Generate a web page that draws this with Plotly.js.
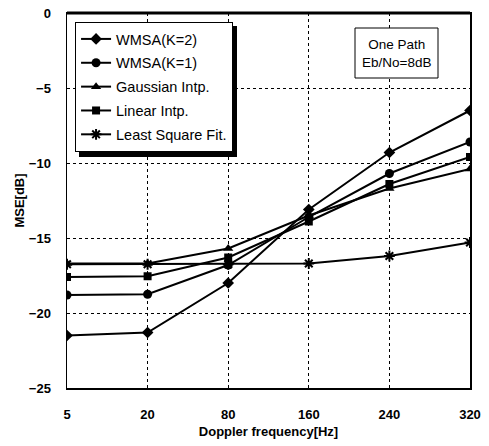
<!DOCTYPE html>
<html><head><meta charset="utf-8">
<script src="https://cdn.plot.ly/plotly-3.0.1.min.js"></script>
<style>html,body{margin:0;padding:0;background:#fff}#c{width:489px;height:446px}</style>
</head><body><div id="c"></div>
<script>
const categories = ['5','20','80','160','240','320'];
const wmsaK2 = [-21.5, -21.3, -18.0, -13.1, -9.3, -6.5];
const wmsaK1 = [-18.8, -18.75, -16.8, -13.6, -10.7, -8.6];
const gaussian = [-16.7, -16.7, -15.7, -13.5, -11.7, -10.4];
const linear = [-17.6, -17.55, -16.3, -13.9, -11.4, -9.6];
const lsf = [-16.75, -16.75, -16.75, -16.7, -16.2, -15.3];
const names = ['WMSA(K=2)', 'WMSA(K=1)', 'Gaussian Intp.', 'Linear Intp.', 'Least Square Fit.'];

const FONT = 'Liberation Sans, Arial, sans-serif';
function tr(y, name, sym, dash, sz){
  return {x: categories, y: y, name: name, type:'scatter', mode:'lines+markers',
    legendgroup: name,
    line:{color:'#000', width:2, dash:dash},
    marker:{symbol:sym, size:sz, color:'#000', line:{color:'#000', width: sym.indexOf('asterisk')>=0 ? 2 : 0}}};
}
const data = [
  tr(wmsaK2, names[0], 'diamond', 'solid', 9),
  tr(wmsaK1, names[1], 'circle', 'solid', 9),
  tr(gaussian, names[2], 'triangle-up', 'solid', 9),
  tr(linear, names[3], 'square', 'solid', 8),
  tr(lsf, names[4], 'asterisk-open', 'solid', 9)
];
// pixel helpers for paper coordinates (plot area 67..470 x, 13..388 y)
const px = v => (v - 67) / 403;
const py = v => (388 - v) / 375;
const layout = {
  width:489, height:446,
  margin:{l:67, r:19, t:13, b:58},
  paper_bgcolor:'#fff', plot_bgcolor:'#fff',
  font:{family:FONT, color:'#000', size:13},
  showlegend:true,
  legend:{x:0.02, y:0.976, xanchor:'left', yanchor:'top',
    bgcolor:'#fff', bordercolor:'#000', borderwidth:1,
    font:{family:FONT, size:14.5, color:'#000'}, tracegroupgap:2, itemwidth:30},
  xaxis:{type:'category', categoryorder:'array', categoryarray:categories, range:[0,5],
    showgrid:true, gridcolor:'#000', griddash:'dot', gridwidth:1,
    showline:true, linecolor:'#000', linewidth:1.5, mirror:true,
    ticks:'', ticklabelstandoff:14,
    tickfont:{family:FONT, size:13, weight:'bold'},
    title:{text:'Doppler frequency[Hz]', font:{family:FONT, size:13, weight:'bold'}, standoff:6}},
  yaxis:{range:[-25,0], dtick:5, tick0:0,
    showgrid:true, gridcolor:'#000', griddash:'dot', gridwidth:1, zeroline:false,
    showline:true, linecolor:'#000', linewidth:1.5, mirror:true,
    ticks:'', ticklabelstandoff:12,
    tickfont:{family:FONT, size:13, weight:'bold'},
    title:{text:'MSE[dB]', font:{family:FONT, size:13, weight:'bold'}, standoff:1}},
  shapes:[
    {type:'line', xref:'paper', yref:'paper', x0:0, x1:1, y0:1, y1:1, line:{color:'#000', width:3}},
    {type:'rect', xref:'paper', yref:'paper', layer:'above', x0:px(79), x1:px(237), y0:py(157), y1:py(26),
     fillcolor:'#000', line:{width:0}},
    {type:'rect', xref:'paper', yref:'paper', layer:'above', x0:px(355), x1:px(438), y0:py(78), y1:py(28),
     fillcolor:'#fff', line:{color:'#000', width:1}}
  ],
  annotations:[
    {xref:'paper', yref:'paper', x:px(396.5), y:py(53), xanchor:'center', yanchor:'middle',
     text:'One Path<br>Eb/No=8dB', showarrow:false, align:'center',
     font:{family:FONT, size:13.5, color:'#000'}}
  ]
};
Plotly.newPlot('c', data, layout, {displayModeBar:false, staticPlot:true});
</script></body></html>
